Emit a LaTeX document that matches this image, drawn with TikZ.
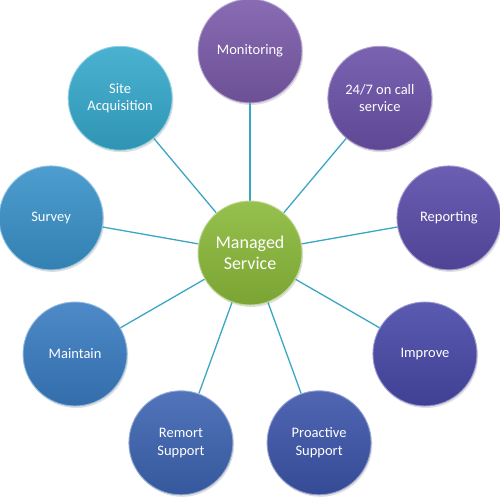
\documentclass[tikz,border=0pt]{standalone}
\usepackage{fontspec}
\setmainfont{Carlito}
\usetikzlibrary{shadows,backgrounds,calc}
\definecolor{cmon}{HTML}{7B5BAA}
\definecolor{ccall}{HTML}{6B51A8}
\definecolor{crep}{HTML}{5A4CAA}
\definecolor{cimp}{HTML}{4848A8}
\definecolor{cpro}{HTML}{3D55AA}
\definecolor{crem}{HTML}{3D64B2}
\definecolor{cmai}{HTML}{3A7CC2}
\definecolor{csur}{HTML}{3A92CA}
\definecolor{csite}{HTML}{36A9CC}
\definecolor{ccen}{HTML}{8BBA3A}
\definecolor{clink}{HTML}{3AA6C4}
\begin{document}
\begin{tikzpicture}[x=1pt,y=1pt,
  ball/.style={circle, minimum size=104pt, inner sep=0pt, text=white, align=center,
    font=\fontsize{14.5}{17.4}\selectfont,
    top color=#1!90!white, bottom color=#1!88!black, draw=#1!55!white, line width=0.9pt,
    drop shadow={opacity=0.25, shadow xshift=1.2pt, shadow yshift=-2pt}},
  link/.style={draw=clink, line width=1.3pt}]
\useasboundingbox (0,0) rectangle (500,500);
\coordinate (o) at (250,247);
\node[ball=ccen, font=\fontsize{18}{21.6}\selectfont] (c) at (o) {Managed\\Service};
\node[ball=cmon]  (mon)  at ($(o)+(90:202)$)  {Monitoring};
\node[ball=ccall] (call) at ($(o)+(50:202)$)  {24/7 on call\\service};
\node[ball=crep]  (rep)  at ($(o)+(10:202)$)  {Reporting};
\node[ball=cimp]  (imp)  at ($(o)+(-30:202)$) {Improve};
\node[ball=cpro]  (pro)  at ($(o)+(-70:202)$) {Proactive\\Support};
\node[ball=crem]  (rem)  at ($(o)+(-110:202)$) {Remort\\Support};
\node[ball=cmai]  (mai)  at ($(o)+(-150:202)$) {Maintain};
\node[ball=csur]  (sur)  at ($(o)+(170:202)$) {Survey};
\node[ball=csite] (site) at ($(o)+(130:202)$) {Site\\Acquisition};
\begin{pgfonlayer}{background}
\foreach \n in {mon,call,rep,imp,pro,rem,mai,sur,site}
  \draw[link] (c) -- (\n);
\end{pgfonlayer}
\end{tikzpicture}
\end{document}
